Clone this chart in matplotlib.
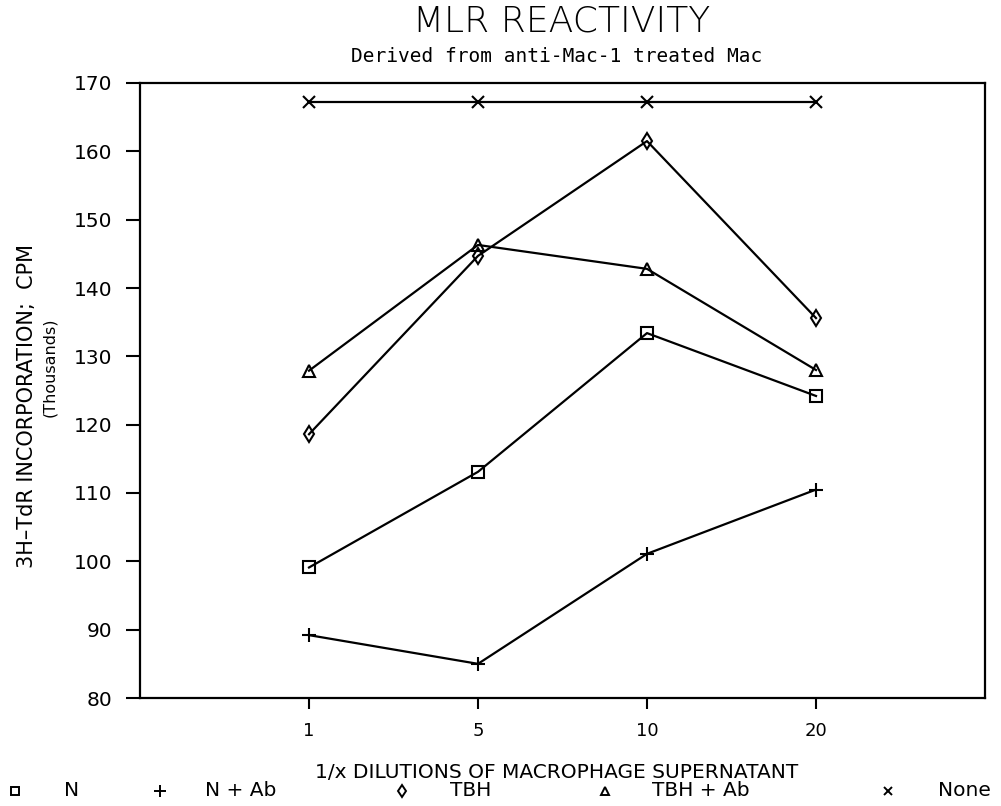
import matplotlib
matplotlib.use("Agg")
import matplotlib.pyplot as plt
from matplotlib.lines import Line2D

categories = ["1", "5", "10", "20"]
n_vals = [99.1, 113.1, 133.4, 124.2]
n_ab_vals = [89.2, 85.0, 101.1, 110.5]
tbh_vals = [118.6, 144.7, 161.5, 135.6]
tbh_ab_vals = [127.9, 146.3, 142.8, 128.0]
none_vals = [167.2, 167.2, 167.2, 167.2]
y_ticks = [80, 90, 100, 110, 120, 130, 140, 150, 160, 170]

series = [
    ("N", n_vals, "s", 8),
    ("N + Ab", n_ab_vals, "+", 10),
    ("TBH", tbh_vals, "d", 8),
    ("TBH + Ab", tbh_ab_vals, "^", 8),
    ("None", none_vals, "x", 8),
]

plt.rcParams['font.family'] = ['DejaVu Sans']
fig = plt.figure(figsize=(10.01, 8.06), dpi=100)
ax = fig.add_axes([140/1001, 1-698/806, (985-140)/1001, (698-83)/806])

xs = list(range(1, len(categories) + 1))
for name, vals, mk, ms in series:
    ax.plot(xs, vals, color="black", lw=1.6, marker=mk, markersize=ms,
            markerfacecolor="none", markeredgecolor="black", markeredgewidth=1.5)

ax.set_xlim(0, len(categories) + 1)
ax.set_ylim(80, 170)
ax.set_xticks(xs)
ax.set_xticklabels(categories, fontsize=13)
ax.set_yticks(y_ticks)
ax.set_yticklabels([str(v) for v in y_ticks], fontsize=14.5)
ax.tick_params(axis="y", direction="out", length=10, width=1.5, pad=10)
ax.tick_params(axis="x", direction="out", length=8, width=1.5, pad=9)
for s in ax.spines.values():
    s.set_linewidth(1.6)

fig.text(562/1001, 1-22/806, "MLR REACTIVITY", ha="center", va="center",
         fontsize=26, fontweight="light")
fig.text(557/1001, 1-57/806, "Derived from anti-Mac-1 treated Mac", ha="center",
         va="center", fontsize=14, family=["DejaVu Sans Mono"])
fig.text(557/1001, 1-772/806, "1/x DILUTIONS OF MACROPHAGE SUPERNATANT", ha="center",
         va="center", fontsize=14.5)
fig.text(27/1001, 1-406/806, "3H\u2013TdR INCORPORATION;  CPM", rotation=90,
         ha="center", va="center", fontsize=15)
fig.text(50/1001, 1-367/806, "(Thousands)", rotation=90,
         ha="center", va="center", fontsize=11.5)

# legend row
leg_marker_x = [15, 160, 402, 605, 888]
leg_text_x = [64, 205, 450, 652, 938]
ly = 1 - 791/806
for (name, vals, mk, ms), mx, tx in zip(series, leg_marker_x, leg_text_x):
    fig.add_artist(Line2D([mx/1001], [ly], marker=mk, markersize=ms*0.8, color="black",
                          markerfacecolor="none", markeredgewidth=1.4, linestyle="none",
                          transform=fig.transFigure))
    fig.text(tx/1001, ly, name, ha="left", va="center", fontsize=14.5)

fig.savefig("out.png", dpi=100)
